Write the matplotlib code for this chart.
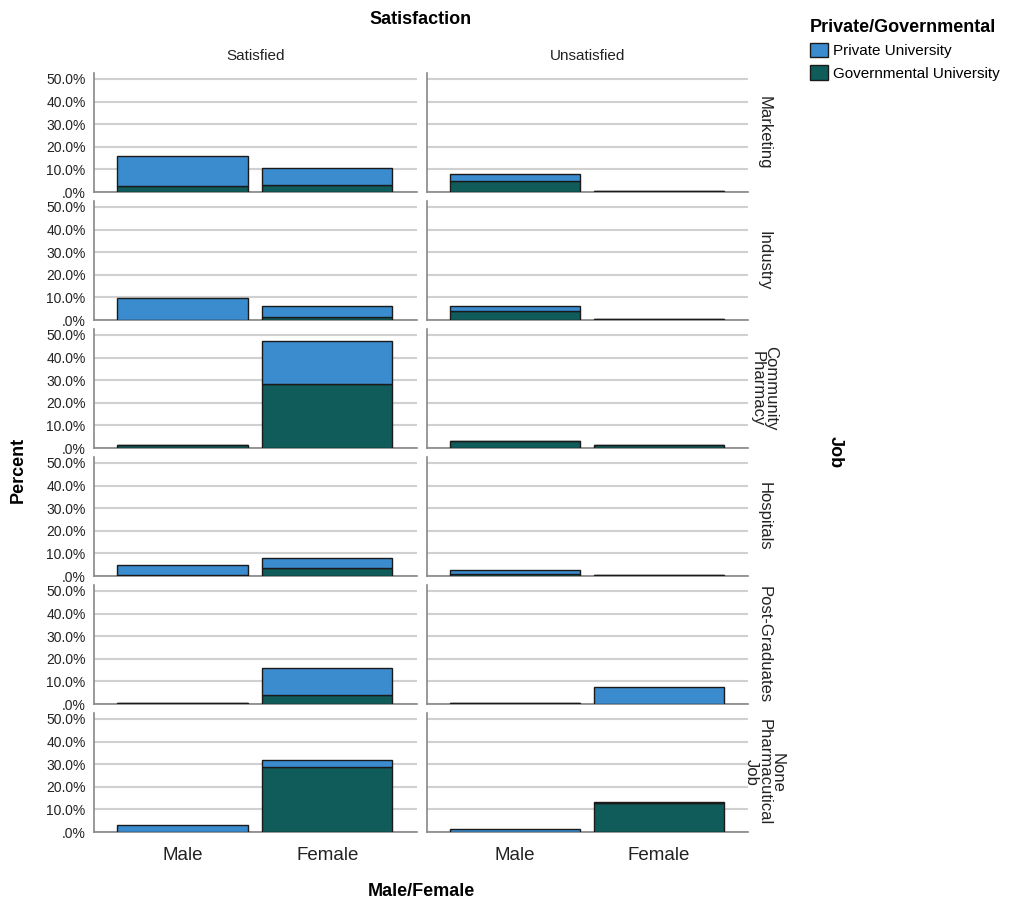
import numpy as np
import matplotlib.pyplot as plt
from matplotlib.patches import Patch
from matplotlib.ticker import FuncFormatter

plt.rcParams['font.family'] = ['Liberation Sans', 'DejaVu Sans']

# data (percent of total)
jobs = ["Marketing", "Industry", "Community\nPharmacy", "Hospitals",
        "Post-Graduates", "None\nPharmacutical\nJob"]
satisfaction = ["Satisfied", "Unsatisfied"]
genders = ["Male", "Female"]

# [job][satisfaction][gender]
gov = [
    [[2.8, 3.3], [4.8, 0.3]],
    [[0.0, 1.5], [3.8, 0.3]],
    [[1.5, 28.5], [3.2, 1.2]],
    [[0.3, 3.6], [0.8, 0.3]],
    [[0.4, 3.8], [0.4, 0.0]],
    [[0.0, 28.7], [0.0, 12.9]],
]
priv = [
    [[13.0, 7.5], [3.0, 0.0]],
    [[9.6, 4.8], [2.4, 0.0]],
    [[0.0, 19.0], [0.0, 0.0]],
    [[4.5, 4.4], [1.7, 0.0]],
    [[0.0, 12.0], [0.0, 7.5]],
    [[3.0, 3.0], [1.5, 0.3]],
]

c_priv = "#3a8ccf"
c_gov = "#0f5c5a"
W, H = 1015, 906

fig = plt.figure(figsize=(W / 100, H / 100), dpi=100)

col_left = [94, 427]
col_w = [323, 321]
pan_h = 119
x = np.arange(len(genders))

for i, job in enumerate(jobs):
    bottom_px = 192 + 128 * i
    for j, sat in enumerate(satisfaction):
        ax = fig.add_axes([col_left[j] / W, 1 - bottom_px / H,
                           col_w[j] / W, pan_h / H])
        g = np.array(gov[i][j])
        p = np.array(priv[i][j])
        ax.bar(x, g, width=0.9, color=c_gov, edgecolor="#1a1a1a",
               linewidth=1.0, zorder=3)
        ax.bar(x, p, width=0.9, bottom=g, color=c_priv, edgecolor="#1a1a1a",
               linewidth=1.0, zorder=3)
        ax.set_ylim(0, 52.6)
        ax.set_xlim(-0.61, 1.62)
        ax.set_yticks([0, 10, 20, 30, 40, 50])
        ax.grid(axis="y", color="#d0d0d0", linewidth=1.5, zorder=0)
        ax.set_axisbelow(True)
        for s in ["top", "right"]:
            ax.spines[s].set_visible(False)
        ax.spines["left"].set_color("#888888")
        ax.spines["bottom"].set_color("#888888")
        ax.spines["left"].set_linewidth(1.2)
        ax.spines["bottom"].set_linewidth(1.2)
        ax.tick_params(axis="y", length=0, labelsize=10, pad=6, colors="#222222")
        ax.tick_params(axis="x", length=0)
        if j == 0:
            ax.yaxis.set_major_formatter(FuncFormatter(
                lambda v, pos: ".0%" if v == 0 else "%.1f%%" % v))
        else:
            ax.set_yticklabels([])
        if i == len(jobs) - 1:
            ax.set_xticks(x)
            ax.set_xticklabels(genders, fontsize=13.5, color="#222222")
            ax.tick_params(axis="x", pad=11)
        else:
            ax.set_xticks([])
        if i == 0:
            ax.set_title(sat, fontsize=11, pad=9, color="#222222")
        if j == 1:
            ax.text(1.05, 0.5, job, transform=ax.transAxes, rotation=270,
                    ha="center", va="center", multialignment="center",
                    fontsize=12, color="#222222", linespacing=0.85)

fig.text(421 / W, 1 - 19 / H, "Satisfaction", ha="center", va="center",
         fontsize=13, fontweight="bold")
fig.text(421 / W, 1 - 892 / H, "Male/Female", ha="center", va="center",
         fontsize=13, fontweight="bold")
fig.text(18 / W, 1 - 470 / H, "Percent", ha="center", va="center",
         fontsize=13, fontweight="bold", rotation=90)
fig.text(835 / W, 1 - 452 / H, "Job", ha="center", va="center",
         fontsize=13, fontweight="bold", rotation=270)

handles = [Patch(facecolor=c_priv, edgecolor="#1a1a1a", label="Private University"),
           Patch(facecolor=c_gov, edgecolor="#1a1a1a", label="Governmental University")]
leg = fig.legend(handles=handles, loc="upper left",
                 bbox_to_anchor=(796 / W, 1 - 5 / H), frameon=False,
                 title="Private/Governmental", fontsize=11,
                 handlelength=1.2, handleheight=1.1, handletextpad=0.3,
                 labelspacing=0.45, alignment="left")
leg.get_title().set_fontweight("bold")
leg.get_title().set_fontsize(13)

fig.savefig("out.png", dpi=100)
